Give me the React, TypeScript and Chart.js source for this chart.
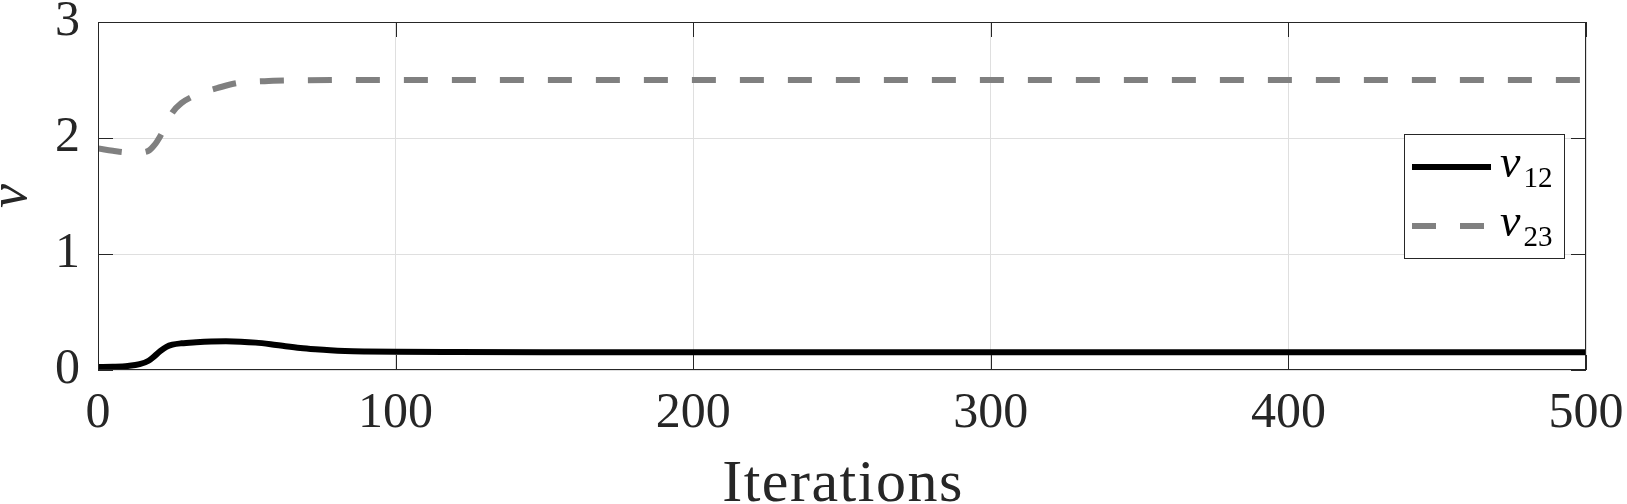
import React, { useEffect, useRef } from 'react';
import { Chart, registerables } from 'chart.js';

Chart.register(...registerables);

// ---- data ----
const v12Iterations = [0, 5, 10, 14, 17, 19, 21, 23, 25, 28, 33, 38, 43, 48, 53, 58, 63, 68, 73, 78, 83, 90, 100, 120, 150, 200, 300, 400, 500];
const v12Values = [0.025, 0.028, 0.035, 0.05, 0.08, 0.12, 0.165, 0.2, 0.218, 0.23, 0.239, 0.245, 0.247, 0.244, 0.236, 0.222, 0.205, 0.19, 0.179, 0.17, 0.164, 0.16, 0.157, 0.155, 0.154, 0.154, 0.154, 0.154, 0.154];

const v23Iterations = [0, 5, 10, 14, 17, 19, 21, 23, 25, 28, 32, 36, 40, 47, 56, 65, 80, 100, 200, 300, 400, 500];
const v23Values = [1.91, 1.89, 1.877, 1.877, 1.89, 1.94, 2.02, 2.12, 2.22, 2.3, 2.36, 2.4, 2.43, 2.475, 2.49, 2.496, 2.5, 2.5, 2.5, 2.5, 2.5, 2.5];

const xTicks = [0, 100, 200, 300, 400, 500];
const yTicks = [0, 1, 2, 3];
const xTitle = 'Iterations';
const yTitle = 'v';
const seriesSymbol = ['v', 'v'];
const seriesSubscripts = ['12', '23'];

const AXIS_COLOR = '#262626';
const GRID_COLOR = '#dfdfdf';
const SERIF = '"Liberation Serif", "Times New Roman", serif';

const decorPlugin = {
  id: 'matlabDecor',
  afterDraw(chart: any) {
    const { ctx, chartArea } = chart;
    const { left, right, top, bottom } = chartArea;
    const xs = chart.scales.x;
    const ys = chart.scales.y;
    ctx.save();
    // axes box
    ctx.strokeStyle = AXIS_COLOR;
    ctx.lineWidth = 1;
    ctx.setLineDash([]);
    ctx.strokeRect(left + 0.5, top + 0.5, right - left - 1, bottom - top - 1);
    // inward ticks
    const tl = 15;
    ctx.beginPath();
    xTicks.forEach((t) => {
      const px = Math.round(xs.getPixelForValue(t)) + 0.5;
      ctx.moveTo(px, bottom);
      ctx.lineTo(px, bottom - tl);
      ctx.moveTo(px, top);
      ctx.lineTo(px, top + tl);
    });
    yTicks.forEach((t) => {
      const py = Math.round(ys.getPixelForValue(t)) + 0.5;
      ctx.moveTo(left, py);
      ctx.lineTo(left + tl, py);
      ctx.moveTo(right, py);
      ctx.lineTo(right - tl, py);
    });
    ctx.stroke();

    // x title
    ctx.fillStyle = AXIS_COLOR;
    ctx.font = `normal 60px ${SERIF}`;
    (ctx as any).letterSpacing = '1.5px';
    ctx.textAlign = 'center';
    ctx.textBaseline = 'alphabetic';
    ctx.fillText(xTitle, (left + right) / 2 + 1, 501);
    (ctx as any).letterSpacing = '0px';

    // y title
    ctx.save();
    ctx.translate(26, (top + bottom) / 2);
    ctx.rotate(-Math.PI / 2);
    ctx.font = `italic 54px ${SERIF}`;
    ctx.textAlign = 'center';
    ctx.fillText(yTitle, 0, 0);
    ctx.restore();

    // legend
    const lx = right - 182;
    const ly = top + 112;
    const lw = 160;
    const lh = 124;
    ctx.fillStyle = '#ffffff';
    ctx.fillRect(lx, ly, lw, lh);
    ctx.strokeStyle = AXIS_COLOR;
    ctx.lineWidth = 1;
    ctx.strokeRect(lx + 0.5, ly + 0.5, lw, lh);
    const datasets = chart.data.datasets;
    const rows = [ly + 33, ly + 92];
    datasets.forEach((ds: any, i: number) => {
      const yy = rows[i];
      ctx.beginPath();
      ctx.lineWidth = ds.borderWidth;
      ctx.strokeStyle = ds.borderColor;
      ctx.lineCap = 'butt';
      ctx.setLineDash(ds.borderDash || []);
      ctx.moveTo(lx + 8, yy);
      ctx.lineTo(lx + (ds.borderDash ? 80 : 87), yy);
      ctx.stroke();
      ctx.setLineDash([]);
      ctx.fillStyle = '#000000';
      ctx.textAlign = 'left';
      ctx.textBaseline = 'alphabetic';
      ctx.font = `italic 46px ${SERIF}`;
      ctx.fillText(seriesSymbol[i], lx + 96, yy + 10);
      const w = ctx.measureText(seriesSymbol[i]).width;
      ctx.font = `normal 29px ${SERIF}`;
      ctx.fillText(seriesSubscripts[i], lx + 96 + w + 3, yy + 20);
    });
    ctx.restore();
  },
};

export default function App() {
  const canvasRef = useRef<HTMLCanvasElement | null>(null);

  useEffect(() => {
    document.body.style.margin = '0';
    const canvas = canvasRef.current;
    if (!canvas) return;
    const chart = new Chart(canvas, {
      type: 'line',
      data: {
        datasets: [
          {
            label: 'v12',
            data: v12Iterations.map((x, i) => ({ x, y: v12Values[i] })),
            borderColor: '#000000',
            borderWidth: 6,
            pointRadius: 0,
            cubicInterpolationMode: 'monotone',
            borderCapStyle: 'butt',
            borderJoinStyle: 'round',
            fill: false,
          },
          {
            label: 'v23',
            data: v23Iterations.map((x, i) => ({ x, y: v23Values[i] })),
            borderColor: '#808080',
            borderWidth: 6,
            borderDash: [24, 24],
            pointRadius: 0,
            cubicInterpolationMode: 'monotone',
            borderCapStyle: 'butt',
            borderJoinStyle: 'round',
            fill: false,
          },
        ],
      },
      options: {
        animation: false,
        responsive: false,
        devicePixelRatio: 1,
        layout: { padding: { top: 22, right: 41, left: 0, bottom: 0 } },
        plugins: {
          legend: { display: false },
          tooltip: { enabled: false },
          title: { display: false },
        },
        scales: {
          x: {
            type: 'linear',
            min: 0,
            max: 500,
            afterBuildTicks: (scale: any) => {
              scale.ticks = xTicks.map((v) => ({ value: v }));
            },
            afterFit: (scale: any) => {
              scale.height = 134;
              scale.paddingLeft = 0;
              scale.paddingRight = 0;
            },
            ticks: {
              font: { family: SERIF, size: 50, lineHeight: 1.2 },
              color: AXIS_COLOR,
              padding: 14,
              maxRotation: 0,
              autoSkip: false,
            },
            grid: { color: GRID_COLOR, drawTicks: false, lineWidth: 1 },
            border: { display: false },
          },
          y: {
            type: 'linear',
            min: 0,
            max: 3,
            afterBuildTicks: (scale: any) => {
              scale.ticks = yTicks.map((v) => ({ value: v }));
            },
            afterFit: (scale: any) => {
              scale.width = 98;
              scale.paddingTop = 0;
              scale.paddingBottom = 0;
            },
            ticks: {
              font: { family: SERIF, size: 50, lineHeight: 1.2 },
              color: AXIS_COLOR,
              padding: 18,
              autoSkip: false,
            },
            grid: { color: GRID_COLOR, drawTicks: false, lineWidth: 1 },
            border: { display: false },
          },
        },
      },
      plugins: [decorPlugin],
    } as any);
    return () => chart.destroy();
  }, []);

  return (
    <div style={{ width: 1627, height: 504 }}>
      <canvas ref={canvasRef} width={1627} height={504} style={{ display: 'block' }} />
    </div>
  );
}
